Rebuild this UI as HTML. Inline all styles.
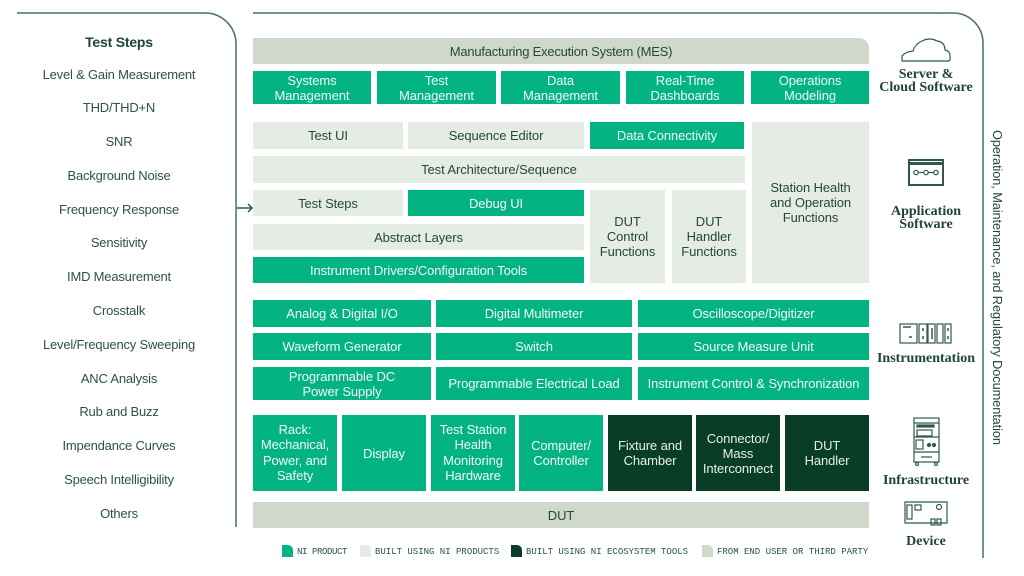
<!DOCTYPE html>
<html><head><meta charset="utf-8">
<style>
html,body{margin:0;padding:0;background:#fff}
#p{position:relative;width:1024px;height:576px;overflow:hidden;background:#fff;font-family:"Liberation Sans",sans-serif;font-size:13px;color:#24483a}
.b{position:absolute;display:flex;align-items:center;justify-content:center;text-align:center;line-height:15px;box-sizing:border-box;letter-spacing:-.1px}
.g{background:#04b382;color:#eefaf5}
.l{background:#e4ece3;color:#24483a}
.d{background:#0a3d26;color:#e6efe9}
.t{background:#d0d9c9;color:#24483a}
.s{position:absolute;left:17px;width:204px;text-align:center;line-height:16px;color:#2d5345;letter-spacing:-.2px}
.h{position:absolute;width:124px;text-align:center;font-family:"Liberation Serif",serif;font-weight:bold;font-size:14px;line-height:13px;color:#1f4535}
.k{position:absolute;top:547px;font-family:"Liberation Mono",monospace;font-size:9px;line-height:11px;color:#2d5345;white-space:nowrap}
.m{position:absolute;top:545px;width:11px;height:12px;border-top-right-radius:5px}
</style></head><body><div id="p">
<svg width="1024" height="576" style="position:absolute;left:0;top:0" fill="none" stroke="#47705e" stroke-width="1.5">
<path d="M17 13H205A31 31 0 0 1 236 44V527"/>
<path d="M253 13H953A30 30 0 0 1 983 43V558"/>
<g stroke="#2f5a48">
<path d="M237 208H252M248 204L252 208L248 212"/>
<path d="M902 61H948Q951 61 950 56Q950 51 945 50Q945 42 937 41Q930 37 922 41Q915 44 913 51Q905 52 902 56Z" stroke-width="1.2"/>
<rect x="909" y="160" width="34" height="25" stroke-width="2"/>
<path d="M909 163.500H943" stroke-width="3"/>
<path d="M918 172.500H934" stroke-width="1.2"/><circle cx="916" cy="172.500" r="2.200" fill="#fff" stroke-width="1.2"/><circle cx="926" cy="172.500" r="2.200" fill="#fff" stroke-width="1.2"/><circle cx="936" cy="172.500" r="2.200" fill="#fff" stroke-width="1.2"/>
<g stroke-width="1.2"><rect x="900" y="324" width="17" height="19"/><rect x="919" y="324" width="8" height="19"/><rect x="928" y="324" width="7" height="19"/><rect x="937" y="324" width="6" height="19"/><rect x="945" y="324" width="6" height="19"/></g>
<path d="M903 327H911M909 337H912M923 328V331M923 336V339M932 328V339M948 328V331M948 336V339" stroke-width="1.5"/>
<g stroke-width="1.2"><rect x="914" y="418" width="25" height="44"/>
<path d="M914 423H939M914 437H939M914 452H939"/>
<rect x="917" y="425" width="17" height="2" fill="#2f5a48"/><rect x="917" y="430" width="15" height="6"/><rect x="916" y="440" width="7" height="9"/>
<circle cx="929" cy="445" r="1.500" fill="#2f5a48"/><circle cx="934" cy="445" r="1.500" fill="#2f5a48"/>
<path d="M921 457H932"/>
<circle cx="917" cy="464" r="1.500"/><circle cx="936" cy="464" r="1.500"/>
<path d="M905 502H947V523H905Z"/>
<rect x="907" y="505" width="5" height="14"/><rect x="915" y="505" width="6" height="5"/><circle cx="939" cy="507" r="2.500"/>
<rect x="931" y="519" width="4" height="6"/><rect x="937" y="519" width="4" height="6"/></g>
</g>
</svg>

<div class="s" style="top:34px;font-weight:bold;font-size:14px;color:#1f4535">Test Steps</div>
<div class="s" style="top:67px">Level &amp; Gain Measurement</div>
<div class="s" style="top:100px">THD/THD+N</div>
<div class="s" style="top:134px">SNR</div>
<div class="s" style="top:168px">Background Noise</div>
<div class="s" style="top:202px">Frequency Response</div>
<div class="s" style="top:235px">Sensitivity</div>
<div class="s" style="top:269px">IMD Measurement</div>
<div class="s" style="top:303px">Crosstalk</div>
<div class="s" style="top:337px">Level/Frequency Sweeping</div>
<div class="s" style="top:371px">ANC Analysis</div>
<div class="s" style="top:404px">Rub and Buzz</div>
<div class="s" style="top:438px">Impendance Curves</div>
<div class="s" style="top:472px">Speech Intelligibility</div>
<div class="s" style="top:506px">Others</div>

<div class="b t" style="left:253px;top:38px;width:616px;height:26px;border-top-right-radius:10px;letter-spacing:-.22px">Manufacturing Execution System (MES)</div>
<div class="b g" style="left:253px;top:71px;width:118px;height:33px">Systems<br>Management</div>
<div class="b g" style="left:377px;top:71px;width:119px;height:33px">Test<br>Management</div>
<div class="b g" style="left:501px;top:71px;width:119px;height:33px">Data<br>Management</div>
<div class="b g" style="left:626px;top:71px;width:118px;height:33px">Real-Time<br>Dashboards</div>
<div class="b g" style="left:751px;top:71px;width:118px;height:33px">Operations<br>Modeling</div>

<div class="b l" style="left:253px;top:122px;width:150px;height:27px">Test UI</div>
<div class="b l" style="left:408px;top:122px;width:176px;height:27px">Sequence Editor</div>
<div class="b g" style="left:590px;top:122px;width:154px;height:27px">Data Connectivity</div>
<div class="b l" style="left:752px;top:122px;width:117px;height:161px">Station Health<br>and Operation<br>Functions</div>
<div class="b l" style="left:253px;top:156px;width:492px;height:27px">Test Architecture/Sequence</div>
<div class="b l" style="left:253px;top:190px;width:150px;height:26px">Test Steps</div>
<div class="b g" style="left:408px;top:190px;width:176px;height:26px">Debug UI</div>
<div class="b l" style="left:253px;top:224px;width:331px;height:26px">Abstract Layers</div>
<div class="b g" style="left:253px;top:257px;width:331px;height:26px">Instrument Drivers/Configuration Tools</div>
<div class="b l" style="left:590px;top:190px;width:75px;height:93px">DUT<br>Control<br>Functions</div>
<div class="b l" style="left:672px;top:190px;width:74px;height:93px">DUT<br>Handler<br>Functions</div>

<div class="b g" style="left:253px;top:300px;width:178px;height:27px">Analog &amp; Digital I/O</div>
<div class="b g" style="left:436px;top:300px;width:196px;height:27px">Digital Multimeter</div>
<div class="b g" style="left:638px;top:300px;width:231px;height:27px">Oscilloscope/Digitizer</div>
<div class="b g" style="left:253px;top:333px;width:178px;height:27px">Waveform Generator</div>
<div class="b g" style="left:436px;top:333px;width:196px;height:27px">Switch</div>
<div class="b g" style="left:638px;top:333px;width:231px;height:27px">Source Measure Unit</div>
<div class="b g" style="left:253px;top:367px;width:178px;height:33px">Programmable DC<br>Power Supply</div>
<div class="b g" style="left:436px;top:367px;width:196px;height:33px">Programmable Electrical Load</div>
<div class="b g" style="left:638px;top:367px;width:231px;height:33px">Instrument Control &amp; Synchronization</div>

<div class="b g" style="left:253px;top:415px;width:84px;height:76px;line-height:15.300px;padding-bottom:1px">Rack:<br>Mechanical,<br>Power, and<br>Safety</div>
<div class="b g" style="left:342px;top:415px;width:84px;height:76px">Display</div>
<div class="b g" style="left:431px;top:415px;width:84px;height:76px;line-height:15.300px;padding-bottom:1px">Test Station<br>Health<br>Monitoring<br>Hardware</div>
<div class="b g" style="left:519px;top:415px;width:84px;height:76px">Computer/<br>Controller</div>
<div class="b d" style="left:608px;top:415px;width:84px;height:76px">Fixture and<br>Chamber</div>
<div class="b d" style="left:696px;top:415px;width:84px;height:76px">Connector/<br>Mass<br>Interconnect</div>
<div class="b d" style="left:785px;top:415px;width:84px;height:76px">DUT<br>Handler</div>
<div class="b t" style="left:253px;top:502px;width:616px;height:26px">DUT</div>

<div class="h" style="left:864px;top:68px">Server &amp;<br>Cloud Software</div>
<div class="h" style="left:864px;top:205px">Application<br>Software</div>
<div class="h" style="left:864px;top:352px">Instrumentation</div>
<div class="h" style="left:864px;top:474px">Infrastructure</div>
<div class="h" style="left:864px;top:535px">Device</div>

<div style="position:absolute;left:990px;top:130px;height:316px;writing-mode:vertical-rl;font-size:12.800px;line-height:15px;white-space:nowrap;color:#24483a;letter-spacing:-.1px">Operation, Maintenance, and Regulatory Documentation</div>

<div class="m" style="left:282px;background:#04b382"></div><div class="k" style="left:297px;letter-spacing:-.4px">NI PRODUCT</div>
<div class="m" style="left:360px;background:#e4ece3"></div><div class="k" style="left:375px">BUILT USING NI PRODUCTS</div>
<div class="m" style="left:511px;background:#0a3d26"></div><div class="k" style="left:526px">BUILT USING NI ECOSYSTEM TOOLS</div>
<div class="m" style="left:702px;background:#d0d9c9"></div><div class="k" style="left:717px">FROM END USER OR THIRD PARTY</div>
</div></body></html>
